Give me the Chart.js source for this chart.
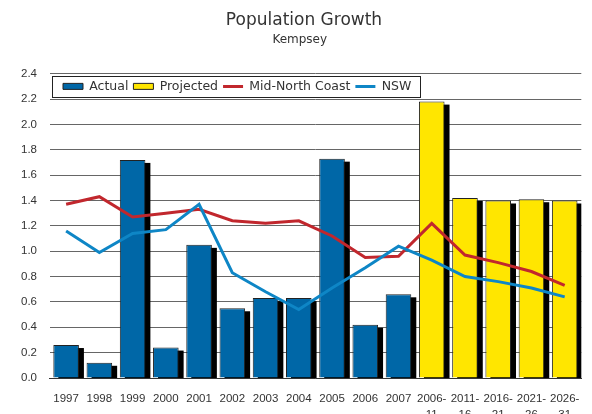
<!DOCTYPE html>
<html>
<head>
<meta charset="utf-8">
<script src="https://cdn.jsdelivr.net/npm/chart.js@4.4.1/dist/chart.umd.min.js"></script>
<style>
html,body{margin:0;padding:0;background:#fff;}
#wrap{width:592px;height:414px;position:relative;overflow:hidden;}
</style>
</head>
<body>
<div id="wrap"><canvas id="c" width="592" height="414"></canvas></div>
<script>
// ---- data ----
const categories = ['1997','1998','1999','2000','2001','2002','2003','2004','2005','2006','2007',
  ['2006-','11'],['2011-','16'],['2016-','21'],['2021-','26'],['2026-','31']];
const actual    = [0.26, 0.12, 1.72, 0.24, 1.05, 0.55, 0.63, 0.63, 1.73, 0.42, 0.66, null, null, null, null, null];
const projected = [null, null, null, null, null, null, null, null, null, null, null, 2.18, 1.42, 1.40, 1.41, 1.40];
const midNorthCoast = [1.37, 1.43, 1.27, 1.30, 1.33, 1.24, 1.22, 1.24, 1.12, 0.95, 0.96, 1.22, 0.97, 0.91, 0.84, 0.73];
const nsw           = [1.16, 0.99, 1.14, 1.17, 1.37, 0.83, 0.68, 0.54, 0.71, 0.87, 1.04, 0.93, 0.80, 0.76, 0.71, 0.64];
const yTicks = [0.0, 0.2, 0.4, 0.6, 0.8, 1.0, 1.2, 1.4, 1.6, 1.8, 2.0, 2.2, 2.4];

const TEXT = '#333333';
const WIDE = "'DejaVu Sans', sans-serif";
const NARROW = "'Liberation Sans', Arial, sans-serif";

// bar shadows (drawn from the bar elements' own geometry)
const shadowPlugin = {
  id: 'barShadow',
  beforeDatasetsDraw(chart) {
    const ctx = chart.ctx, ca = chart.chartArea;
    ctx.save();
    ctx.beginPath();
    ctx.rect(ca.left, ca.top, ca.right - ca.left, ca.bottom - ca.top);
    ctx.clip();
    ctx.fillStyle = '#000';
    chart.data.datasets.forEach((ds, i) => {
      if (ds.type !== 'bar') return;
      const meta = chart.getDatasetMeta(i);
      meta.data.forEach((el, j) => {
        if (ds.data[j] == null) return;
        const p = el.getProps(['x', 'y', 'base', 'width'], true);
        if (isNaN(p.y)) return;
        ctx.fillRect(p.x - p.width / 2 + 5, p.y + 3, p.width, p.base - p.y);
      });
    });
    ctx.restore();
  }
};

// legend placed inside the plot, in a framed white box between 2.4 and 2.2
const legendBoxPlugin = {
  id: 'legendBox',
  afterInit(chart) {
    const lg = chart.legend;
    const origFit = lg.fit;
    lg.fit = function () { origFit.call(this); this.height = 0; };
    const origDraw = lg.draw;
    lg.draw = function (area) {
      const b = this.__box;
      if (b) {
        const ctx = this.ctx;
        ctx.save();
        ctx.fillStyle = '#fff';
        ctx.fillRect(b.l, b.t, b.r - b.l, b.b - b.t);
        ctx.strokeStyle = '#222';
        ctx.lineWidth = 1;
        ctx.strokeRect(Math.round(b.l) + 0.5, Math.round(b.t) + 0.5, Math.round(b.r - b.l), Math.round(b.b - b.t));
        ctx.restore();
      }
      origDraw.call(this, area);
    };
  },
  afterLayout(chart) {
    const lg = chart.legend, ca = chart.chartArea, ys = chart.scales.y;
    const pad = lg.options.labels.padding;
    const fs = lg.options.labels.font.size;
    const mid = ys.getPixelForValue(2.3);
    lg.left = ca.left + 13.5 - pad;
    lg.right = chart.width;
    lg.top = mid - pad - fs / 2;
    lg.bottom = lg.top + fs + 2 * pad;
    let w = 0;
    (lg.legendHitBoxes || []).forEach((h, k) => { w += h.width + (k ? pad : 0); });
    lg.__box = {
      l: ca.left + 2,
      r: lg.left + pad + w + 8,
      t: ys.getPixelForValue(2.4) + 2,
      b: ys.getPixelForValue(2.2) - 2
    };
    // title and subtitle sit slightly right of the canvas centre
    [chart.titleBlock, chart.$subtitle].forEach(t => { if (t) { t.left += 4.25; t.right += 4.25; } });
  }
};

new Chart(document.getElementById('c'), {
  data: {
    labels: categories,
    datasets: [
      { type: 'bar', label: 'Actual', data: actual, backgroundColor: '#0067A7',
        borderColor: '#222', borderWidth: 1, grouped: false, barPercentage: 0.77,
        categoryPercentage: 1, order: 3, clip: 0 },
      { type: 'bar', label: 'Projected', data: projected, backgroundColor: '#FFE600',
        borderColor: '#222', borderWidth: 1, grouped: false, barPercentage: 0.77,
        categoryPercentage: 1, order: 2, clip: 0 },
      { type: 'line', label: 'Mid-North Coast', data: midNorthCoast, borderColor: '#C1272D',
        backgroundColor: '#C1272D', borderWidth: 3, pointRadius: 0, tension: 0, fill: false, order: 1 },
      { type: 'line', label: 'NSW', data: nsw, borderColor: '#0E86C6',
        backgroundColor: '#0E86C6', borderWidth: 3, pointRadius: 0, tension: 0, fill: false, order: 0 }
    ]
  },
  options: {
    responsive: false,
    animation: false,
    events: [],
    layout: { padding: { left: 14, right: 6.5, top: 0, bottom: 0 } },
    plugins: {
      tooltip: { enabled: false },
      title: {
        display: true, text: 'Population Growth', color: TEXT,
        font: { family: WIDE, size: 17, weight: 'normal', lineHeight: 1.2 },
        padding: { top: 10, bottom: 0 }
      },
      subtitle: {
        display: true, text: 'Kempsey', color: TEXT,
        font: { family: WIDE, size: 12, weight: 'normal', lineHeight: 1.2 },
        padding: { top: 2.4, bottom: 26.5 }
      },
      legend: {
        display: true, position: 'top', align: 'start',
        labels: {
          color: TEXT,
          font: { family: WIDE, size: 12.5 },
          padding: 5,
          usePointStyle: true,
          pointStyleWidth: 20,
          boxHeight: 6,
          sort: (a, b) => a.datasetIndex - b.datasetIndex,
          generateLabels(chart) {
            return chart.data.datasets.map((ds, i) => ({
              text: ds.label,
              datasetIndex: i,
              fillStyle: ds.type === 'line' ? ds.borderColor : ds.backgroundColor,
              strokeStyle: ds.type === 'line' ? ds.borderColor : '#222',
              lineWidth: ds.type === 'line' ? 3 : 1,
              pointStyle: ds.type === 'line' ? 'line' : 'rect',
              hidden: false,
              fontColor: TEXT
            }));
          }
        }
      }
    },
    scales: {
      x: {
        grid: { display: false, drawTicks: false, tickLength: 0 },
        border: { display: true, color: '#333', width: 1, z: 1 },
        ticks: { color: TEXT, font: { family: NARROW, size: 11.5, lineHeight: 1.4 },
                 padding: 12.4, maxRotation: 0, autoSkip: false },
        afterFit(s) { s.height = 36; }
      },
      y: {
        min: 0, max: 2.4,
        afterBuildTicks(s) { s.ticks = yTicks.map(v => ({ value: v })); },
        grid: { color: '#666', lineWidth: 1, drawTicks: false, tickLength: 0 },
        border: { display: false },
        ticks: { color: TEXT, font: { family: NARROW, size: 11.5 }, padding: 12.5,
                 callback: v => Number(v).toFixed(1) },
        afterFit(s) { s.width = 35.5; }
      }
    }
  },
  plugins: [shadowPlugin, legendBoxPlugin]
});
</script>
</body>
</html>
